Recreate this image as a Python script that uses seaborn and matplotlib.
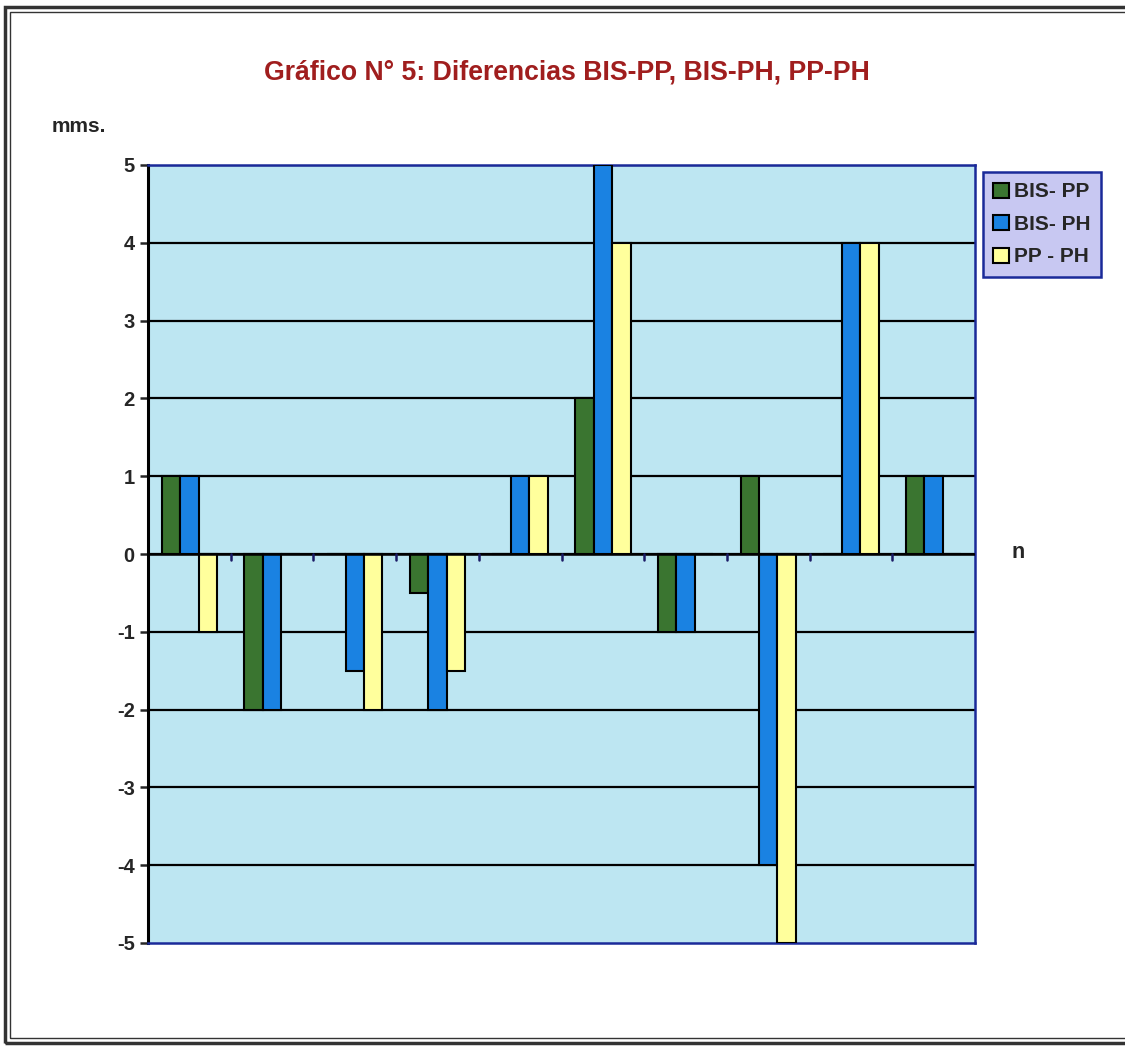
import numpy as np
import pandas as pd
import matplotlib.pyplot as plt
import seaborn as sns
from matplotlib.patches import Rectangle

# Diferencias entre mediciones (mms.) para 10 casos
casos = list(range(1, 11))
series = ['BIS- PP', 'BIS- PH', 'PP - PH']
bis_pp = [1, -2, 0, -0.5, 0, 2, -1, 1, 0, 1]
bis_ph = [1, -2, -1.5, -2, 1, 5, -1, -4, 4, 1]
pp_ph = [-1, 0, -2, -1.5, 1, 4, 0, -5, 4, 0]
colores = ['#3a7530', '#1a82e2', '#ffff9c']

df = pd.DataFrame({
    'n': casos * 3,
    'serie': [s for s in series for _ in casos],
    'valor': bis_pp + bis_ph + pp_ph,
})

sns.set_style('white')
plt.rcParams['font.family'] = ['Liberation Sans', 'DejaVu Sans']

fig = plt.figure(figsize=(11.25, 10.49), dpi=100)
ax = fig.add_axes([148 / 1125, 1 - 943 / 1049, 827 / 1125, 778 / 1049])
ax.set_facecolor('#bde6f2')

sns.barplot(data=df, x='n', y='valor', hue='serie', palette=colores,
            saturation=1, width=0.67, gap=0, edgecolor='black',
            linewidth=1.5, ax=ax, zorder=3)

ax.set_ylim(-5, 5)
ax.set_xlim(-0.5, 9.5)
ax.set_yticks(range(-5, 6))
ax.set_yticklabels([str(v) for v in range(-5, 6)], fontsize=14.5, fontweight='bold')
for y in range(-4, 6):
    ax.axhline(y, color='black', lw=1.6, zorder=2)
ax.axhline(0, color='black', lw=1.8, zorder=4)

# marcas de separación sobre el eje x
for b in np.arange(0.5, 9.5, 1):
    ax.plot([b, b], [0, -0.08], color='#1a1a66', lw=1.8, zorder=4, clip_on=False)

ax.set_xticks([])
ax.set_xlabel('')
ax.set_ylabel('')
ax.tick_params(axis='y', length=6, width=1.8, direction='out', left=True, pad=3.5)

for side in ['top', 'right', 'bottom']:
    ax.spines[side].set_color('#1a2a99')
    ax.spines[side].set_linewidth(1.8)
ax.spines['left'].set_color('black')
ax.spines['left'].set_linewidth(2.2)

fig.text(0.504, 1 - 72 / 1049, 'Gráfico N° 5: Diferencias BIS-PP, BIS-PH, PP-PH',
         ha='center', va='center', fontsize=19.2, fontweight='bold', color='#a01e1e')
fig.text(52 / 1125, 1 - 127 / 1049, 'mms.', ha='left', va='center',
         fontsize=15, fontweight='bold')
fig.text(1018 / 1125, 1 - 552 / 1049, 'n', ha='center', va='center',
         fontsize=15.5, fontweight='bold')

leg = ax.legend(loc='upper left', bbox_to_anchor=(983 / 1125, 1 - 172 / 1049),
                bbox_transform=fig.transFigure, frameon=True, fancybox=False,
                prop={'weight': 'bold', 'size': 15},
                handlelength=0.75, handleheight=0.75, handletextpad=0.25,
                labelspacing=0.65, borderpad=0.5, borderaxespad=0)
leg.get_frame().set_facecolor('#c8c8f2')
leg.get_frame().set_edgecolor('#1a2a99')
leg.get_frame().set_linewidth(1.8)
leg.get_frame().set_alpha(1)

# marco doble exterior
fig.patches.append(Rectangle((5 / 1125, 6 / 1049), 1.0, 1 - 13 / 1049,
                             transform=fig.transFigure, fill=False,
                             edgecolor='#333333', lw=2.5))
fig.patches.append(Rectangle((10 / 1125, 11 / 1049), 1.0, 1 - 23 / 1049,
                             transform=fig.transFigure, fill=False,
                             edgecolor='#333333', lw=1))

fig.savefig('out.png', dpi=100, facecolor='white')
